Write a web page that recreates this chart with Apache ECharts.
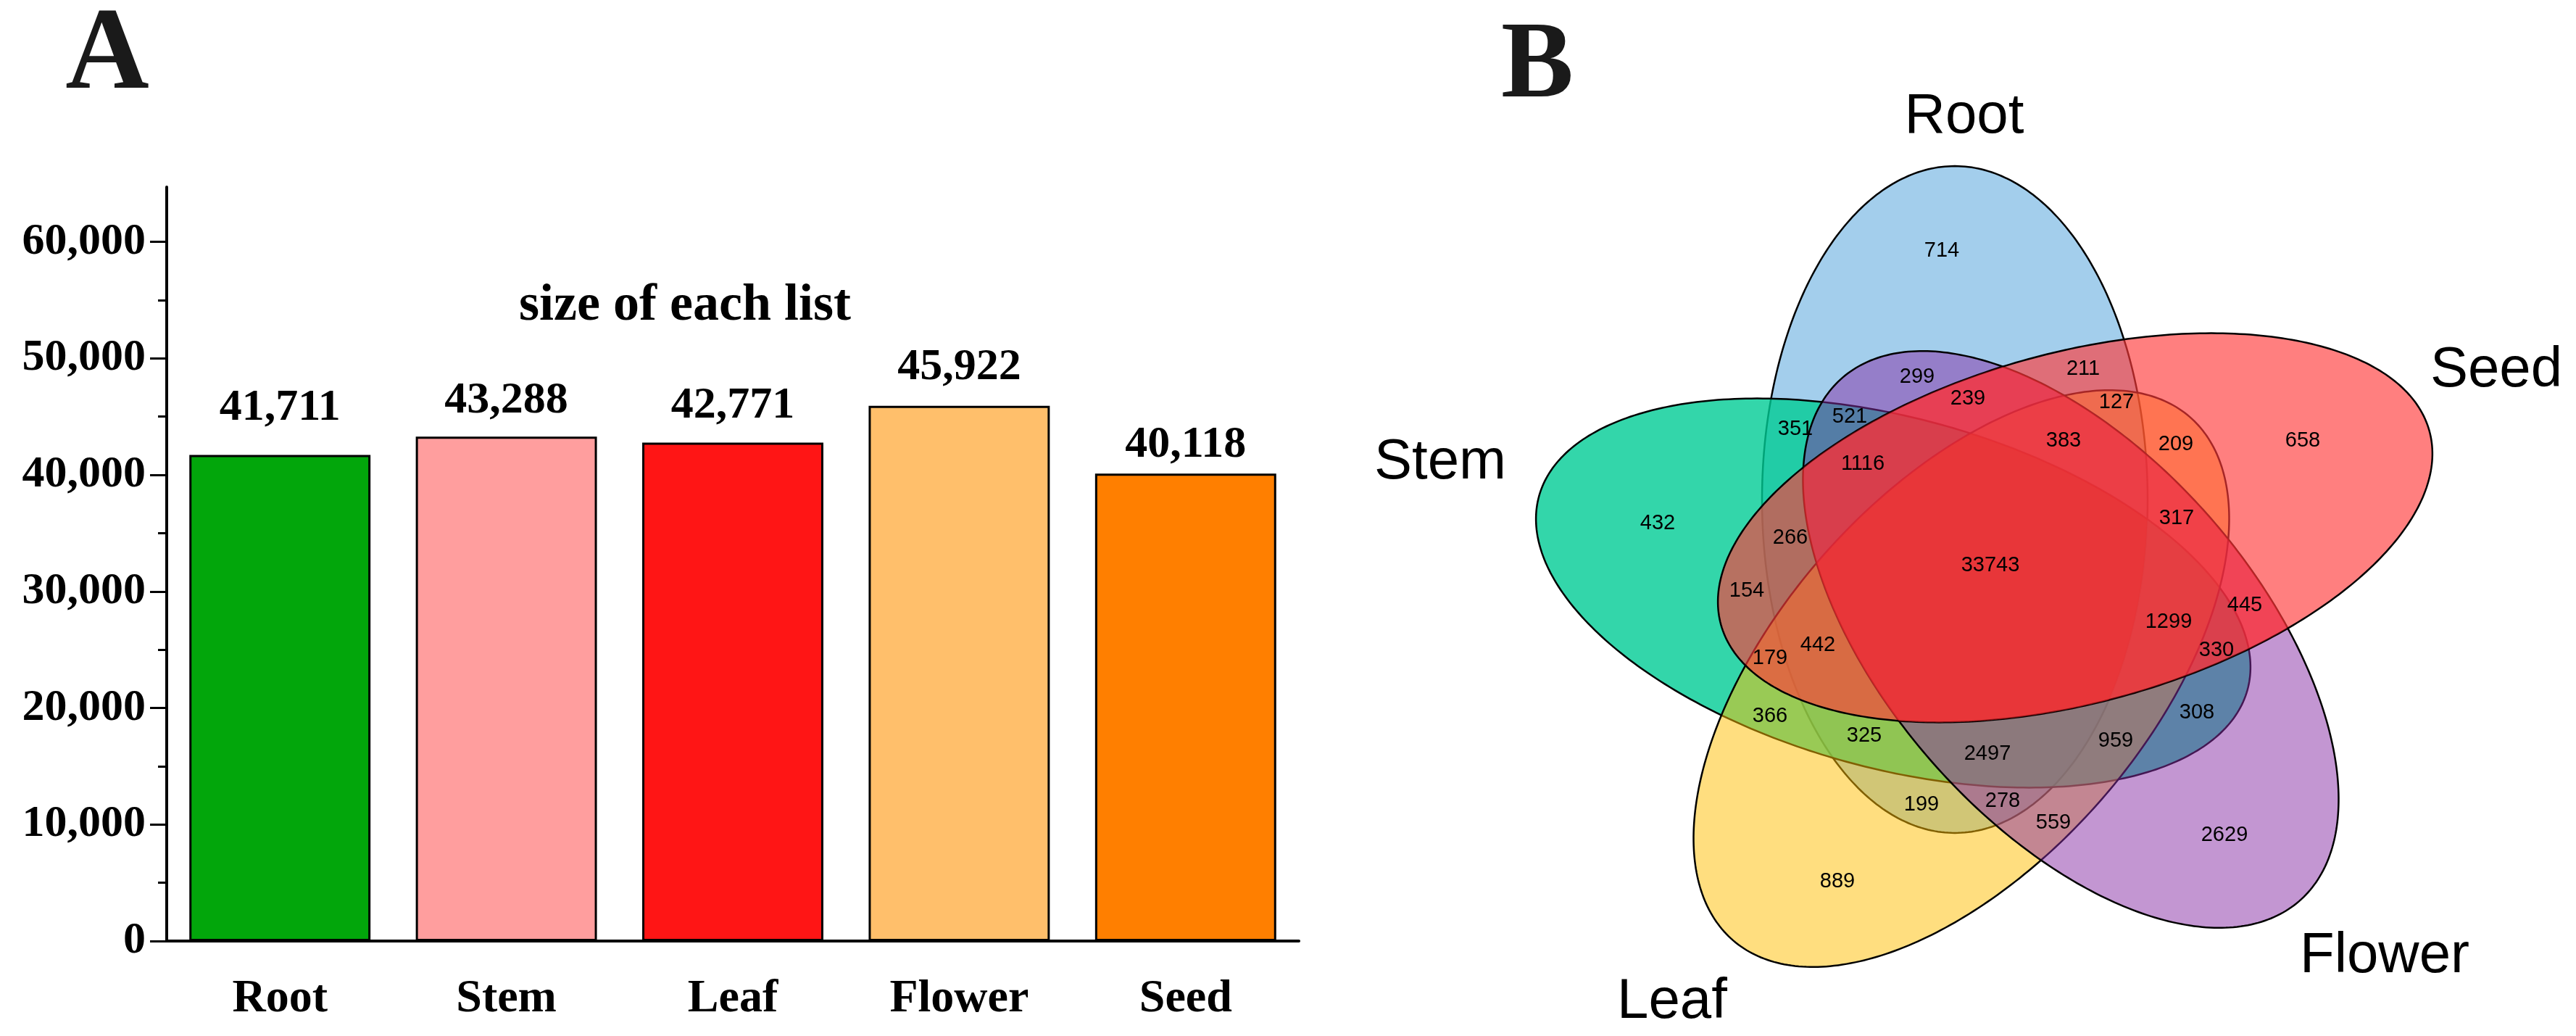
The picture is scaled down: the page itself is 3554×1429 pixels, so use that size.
<!DOCTYPE html>
<html><head><meta charset="utf-8">
<script src="https://cdn.jsdelivr.net/npm/echarts@6/dist/echarts.min.js"></script>
<style>html,body{margin:0;padding:0;background:#fff;}#c{width:3554px;height:1429px;}</style>
</head><body><div id="c"></div>
<script>
// ---------- Panel A data ----------
const categories = ['Root', 'Stem', 'Leaf', 'Flower', 'Seed'];
const listSizes = [41711, 43288, 42771, 45922, 40118];
const barColors = ['#02A60B', '#FF9E9E', '#FF1515', '#FFBF6B', '#FF7F00'];
const barLabelGaps = [34, 18, 20, 22, 8];
const yTickValues = [0, 10000, 20000, 30000, 40000, 50000, 60000];
const yMinorTickValues = [5000, 15000, 25000, 35000, 45000, 55000];

// ---------- Panel B data ----------
const setNames = ['Root', 'Stem', 'Leaf', 'Flower', 'Seed'];
const regionCounts = [714, 432, 889, 2629, 658, 33743, 299, 211, 239, 127, 209, 383, 351, 521, 1116, 266, 154, 317, 442, 179, 1299, 445, 330, 366, 325, 2497, 959, 308, 199, 278, 559];

// ---------- Panel B layout (venn plane, pixel units) ----------
const regionAnchors = [[2679,346],[2287,722],[2535,1216],[3069,1152],[3177,608],[2746,780],[2645,520],[2874,509],[2715,550],[2920,555],[3002,613],[2847,608],[2477,592],[2552,575],[2570,640],[2470,742],[2410,815],[3003,715],[2508,890],[2442,908],[2992,858],[3097,835],[3058,897],[2442,988],[2572,1015],[2742,1040],[2919,1022],[3031,983],[2651,1110],[2763,1105],[2833,1135]];
const vennCenters = [[2697,689],[2612,818],[2706,936],[2857,882],[2863,728]];
const vennRotations = [0, 72, 144, 216, 288];
const vennA = 266, vennB = 511, vennK = 0.9;
const vennFill = ['rgba(71,157,217,0.5)', 'rgba(0,204,149,0.8)', 'rgba(255,189,0,0.5)', 'rgba(135,45,165,0.5)', 'rgba(255,58,58,0.65)'];
const tintSets = [3, 4];                 // Flower ∩ Seed
const tintFill = 'rgba(255,30,40,0.35)';
const coreFill = 'rgba(238,40,40,0.35)';  // all five sets
const setLabelAnchors = [[2710,161],[1987,638],[2307,1382],[3290,1319],[3444,511]];

const serif = "'Liberation Serif','Times New Roman',serif";
const sans = "'Liberation Sans',Arial,sans-serif";
const fmt = v => Number(v).toLocaleString('en-US');

function toLocal(i, X, Y) {
  const c = vennCenters[i], th = vennRotations[i] * Math.PI / 180;
  const mx = X - c[0], my = (c[1] - Y) / vennK;
  const lx = mx * Math.cos(th) + my * Math.sin(th);
  const ly = -mx * Math.sin(th) + my * Math.cos(th);
  return [lx / vennA, ly / vennB];
}
function ellipsePoints(i) {
  const c = vennCenters[i], th = vennRotations[i] * Math.PI / 180, pts = [];
  for (let s = 0; s < 360; s++) {
    const t = s * Math.PI / 180;
    const lx = vennA * Math.cos(t), ly = vennB * Math.sin(t);
    const rx = lx * Math.cos(th) - ly * Math.sin(th);
    const ry = lx * Math.sin(th) + ly * Math.cos(th);
    pts.push([c[0] + rx, c[1] - vennK * ry]);
  }
  return pts;
}
// boundary of the (convex) region common to the given sets, traced from an inner point
function commonPoints(P, sets) {
  const pts = [];
  for (let s = 0; s < 720; s++) {
    const f = s * Math.PI / 360, dx = Math.cos(f), dy = Math.sin(f);
    let rmin = Infinity;
    sets.forEach(i => {
      const p0 = toLocal(i, P[0], P[1]);
      const p1 = toLocal(i, P[0] + dx, P[1] + dy);
      const d = [p1[0] - p0[0], p1[1] - p0[1]];
      const A = d[0] * d[0] + d[1] * d[1], B = 2 * (p0[0] * d[0] + p0[1] * d[1]), C = p0[0] * p0[0] + p0[1] * p0[1] - 1;
      rmin = Math.min(rmin, (-B + Math.sqrt(B * B - 4 * A * C)) / (2 * A));
    });
    pts.push([P[0] + rmin * dx, P[1] + rmin * dy]);
  }
  return pts;
}

const chart = echarts.init(document.getElementById('c'));
chart.setOption({
  backgroundColor: '#fff',
  animation: false,
  grid: [
    {left: 230, top: 258, width: 1562, height: 1040},
    {left: 0, top: 0, width: 3554, height: 1429}
  ],
  xAxis: [
    {gridIndex: 0, type: 'category', data: categories,
     axisLine: {lineStyle: {color: '#000', width: 4}},
     axisTick: {alignWithLabel: true, length: 32, lineStyle: {color: '#000', width: 3}},
     axisLabel: {margin: 48, color: '#000', fontFamily: serif, fontWeight: 'bold', fontSize: 64}},
    {gridIndex: 0, type: 'category', data: categories, position: 'bottom',
     axisLine: {show: false},
     axisTick: {length: 13, lineStyle: {color: '#000', width: 3}},
     axisLabel: {show: false}},
    {gridIndex: 1, type: 'value', min: 0, max: 3554, show: false}
  ],
  yAxis: [
    {gridIndex: 0, type: 'value', min: 0, max: 64700, interval: 10000,
     axisLine: {show: true, lineStyle: {color: '#000', width: 4}},
     axisTick: {show: true, length: 23, customValues: yTickValues, lineStyle: {color: '#000', width: 3}},
     axisLabel: {customValues: yTickValues, formatter: fmt, margin: 29, color: '#000', fontFamily: serif, fontWeight: 'bold', fontSize: 62},
     splitLine: {show: false}},
    {gridIndex: 0, type: 'value', min: 0, max: 64700, position: 'left',
     axisLine: {show: false},
     axisTick: {show: true, length: 12, customValues: yMinorTickValues, lineStyle: {color: '#000', width: 3}},
     axisLabel: {show: false}, splitLine: {show: false}},
    {gridIndex: 1, type: 'value', min: 0, max: 1429, inverse: true, show: false}
  ],
  graphic: [
    {type: 'text', x: 148, y: 80, style: {text: 'A', font: "bold 160px " + serif, fill: '#1a1a1a', align: 'center', verticalAlign: 'middle'}},
    {type: 'text', x: 2121, y: 94, style: {text: 'B', font: "bold 150px " + serif, fill: '#1a1a1a', align: 'center', verticalAlign: 'middle'}},
    {type: 'text', x: 945, y: 422, style: {text: 'size of each list', font: "bold 72px " + serif, fill: '#000', align: 'center', verticalAlign: 'middle'}}
  ],
  series: [
    {type: 'bar', xAxisIndex: 0, yAxisIndex: 0, barCategoryGap: '20%',
     data: listSizes.map((v, i) => ({value: v, itemStyle: {color: barColors[i]}, label: {distance: barLabelGaps[i]}})),
     itemStyle: {borderColor: '#000', borderWidth: 3},
     label: {show: true, position: 'top', formatter: p => fmt(p.value), color: '#000', fontFamily: serif, fontWeight: 'bold', fontSize: 62}},
    {type: 'custom', coordinateSystem: 'cartesian2d', xAxisIndex: 2, yAxisIndex: 2, clip: false, z: 3,
     data: vennCenters.map((c, i) => [c[0], c[1], i]),
     renderItem: function (params, api) {
       const i = params.dataIndex;
       const pts = ellipsePoints(i).map(p => api.coord(p));
       return {type: 'polygon', shape: {points: pts}, style: {fill: vennFill[i], stroke: '#000', lineWidth: 2.5}};
     }},
    {type: 'custom', coordinateSystem: 'cartesian2d', xAxisIndex: 2, yAxisIndex: 2, clip: false, z: 4,
     data: [[regionAnchors[5][0], regionAnchors[5][1], 0], [regionAnchors[5][0], regionAnchors[5][1], 1]],
     renderItem: function (params, api) {
       const sets = params.dataIndex === 0 ? tintSets : [0, 1, 2, 3, 4];
       const pts = commonPoints([api.value(0), api.value(1)], sets).map(p => api.coord(p));
       return {type: 'polygon', shape: {points: pts}, style: {fill: params.dataIndex === 0 ? tintFill : coreFill}};
     }},
    {type: 'custom', coordinateSystem: 'cartesian2d', xAxisIndex: 2, yAxisIndex: 2, clip: false, z: 5,
     data: regionAnchors.map((p, i) => [p[0], p[1], regionCounts[i]]),
     renderItem: function (params, api) {
       const p = api.coord([api.value(0), api.value(1)]);
       return {type: 'text', x: p[0], y: p[1], style: {text: String(api.value(2)), align: 'center', verticalAlign: 'middle', font: '29px ' + sans, fill: '#000'}};
     }},
    {type: 'custom', coordinateSystem: 'cartesian2d', xAxisIndex: 2, yAxisIndex: 2, clip: false, z: 5,
     data: setLabelAnchors.map((p, i) => [p[0], p[1], i]),
     renderItem: function (params, api) {
       const p = api.coord([api.value(0), api.value(1)]);
       return {type: 'text', x: p[0], y: p[1], style: {text: setNames[params.dataIndex], align: 'center', verticalAlign: 'middle', font: '78px ' + sans, fill: '#000'}};
     }}
  ]
});
</script></body></html>
